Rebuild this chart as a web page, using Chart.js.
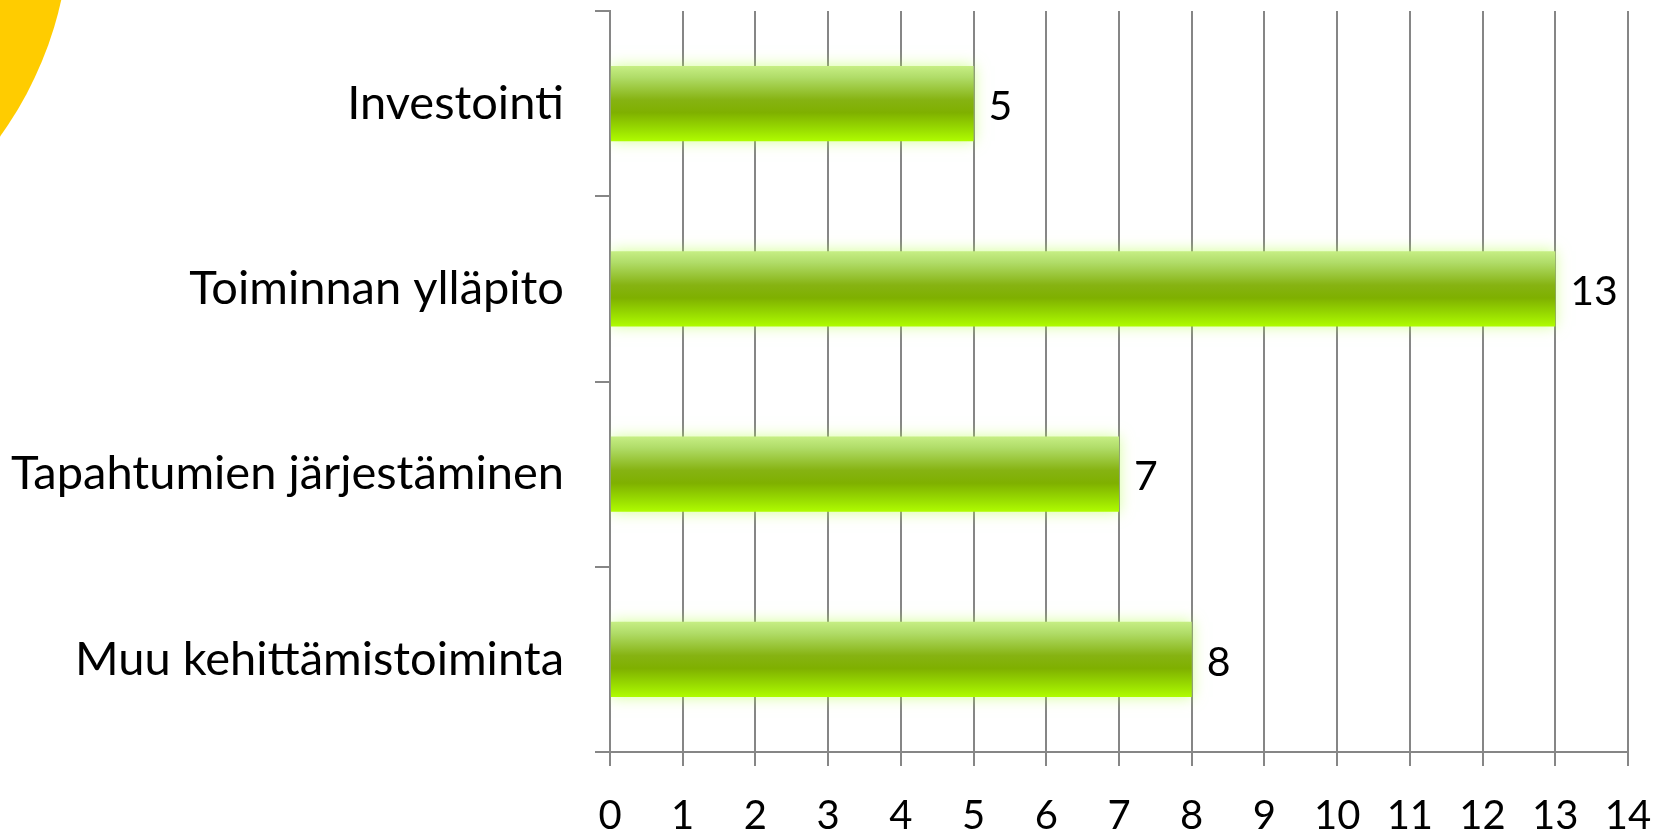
<!DOCTYPE html>
<html>
<head>
<meta charset="utf-8">
<script src="https://cdn.jsdelivr.net/npm/chart.js@4.4.1/dist/chart.umd.min.js"></script>
<style>
  html, body { margin: 0; padding: 0; background: #ffffff; }
  #wrap { width: 1660px; height: 838px; position: relative; }
</style>
</head>
<body>
<div id="wrap"><canvas id="c" width="1660" height="838"></canvas></div>
<script>
const categories = ['Investointi', 'Toiminnan ylläpito', 'Tapahtumien järjestäminen', 'Muu kehittämistoiminta'];
const values = [5, 13, 7, 8];
const xMin = 0;
const xMax = 14;
const xStep = 1;

const FONT = "Lato, 'Open Sans', sans-serif";
const GRID = '#868686';

const decoPlugin = {
  id: 'deco',
  beforeDraw(chart) {
    const ctx = chart.ctx;
    ctx.save();
    ctx.fillStyle = '#ffcc00';
    ctx.beginPath();
    ctx.arc(-300, -80, 370, 0, Math.PI * 2);
    ctx.fill();
    ctx.restore();
  },
  beforeDatasetsDraw(chart) {
    const ctx = chart.ctx;
    ctx.save();
    ctx.shadowColor = 'rgba(175,255,60,0.55)';
    ctx.shadowBlur = 14;
  },
  afterDatasetsDraw(chart) {
    const ctx = chart.ctx;
    ctx.restore();
    const meta = chart.getDatasetMeta(0);
    ctx.save();
    ctx.fillStyle = '#000000';
    ctx.font = '41px ' + FONT;
    ctx.textAlign = 'left';
    ctx.textBaseline = 'middle';
    meta.data.forEach((el, i) => {
      ctx.fillText(String(values[i]), el.x + 15, el.y + 3);
    });
    ctx.restore();
  }
};

function barGradient(context) {
  const chart = context.chart;
  const ys = chart.scales.y;
  if (!chart.chartArea || !ys) return '#80b000';
  const idx = context.dataIndex;
  const center = ys.getPixelForValue(idx);
  const band = (ys.bottom - ys.top) / categories.length;
  const h = band * 0.405;
  const top = center - h / 2, bottom = center + h / 2;
  const g = chart.ctx.createLinearGradient(0, top, 0, bottom);
  g.addColorStop(0, '#c6ee84');
  g.addColorStop(0.15, '#b0dc68');
  g.addColorStop(0.45, '#86b312');
  g.addColorStop(0.62, '#7fb000');
  g.addColorStop(0.85, '#9ade00');
  g.addColorStop(1, '#affc00');
  return g;
}

new Chart(document.getElementById('c'), {
  type: 'bar',
  data: {
    labels: categories,
    datasets: [{
      data: values,
      backgroundColor: barGradient,
      borderWidth: 0,
      barPercentage: 0.405,
      categoryPercentage: 1.0
    }]
  },
  options: {
    indexAxis: 'y',
    responsive: false,
    animation: false,
    devicePixelRatio: 1,
    layout: { padding: { top: 11, right: 32, left: 0, bottom: 0 } },
    plugins: {
      legend: { display: false },
      tooltip: { enabled: false }
    },
    scales: {
      x: {
        type: 'linear',
        min: xMin,
        max: xMax,
        afterFit(scale) {
          scale.height = 86;
          scale.paddingLeft = 0; scale.paddingRight = 0;
          scale.paddingTop = 0; scale.paddingBottom = 0;
        },
        ticks: {
          stepSize: xStep,
          color: '#000000',
          padding: 26,
          font: { size: 40, family: FONT },
          maxRotation: 0
        },
        grid: {
          color: GRID,
          lineWidth: 2,
          tickLength: 14,
          drawTicks: true
        },
        border: { color: GRID, width: 2 }
      },
      y: {
        type: 'category',
        afterFit(scale) {
          scale.width = 610;
          scale.paddingLeft = 0; scale.paddingRight = 0;
          scale.paddingTop = 0; scale.paddingBottom = 0;
        },
        ticks: {
          color: '#000000',
          padding: 31,
          font: { size: 47, family: FONT }
        },
        grid: {
          offset: true,
          drawOnChartArea: false,
          color: GRID,
          lineWidth: 2,
          tickLength: 15
        },
        border: { color: GRID, width: 2 }
      }
    }
  },
  plugins: [decoPlugin]
});
</script>
</body>
</html>
